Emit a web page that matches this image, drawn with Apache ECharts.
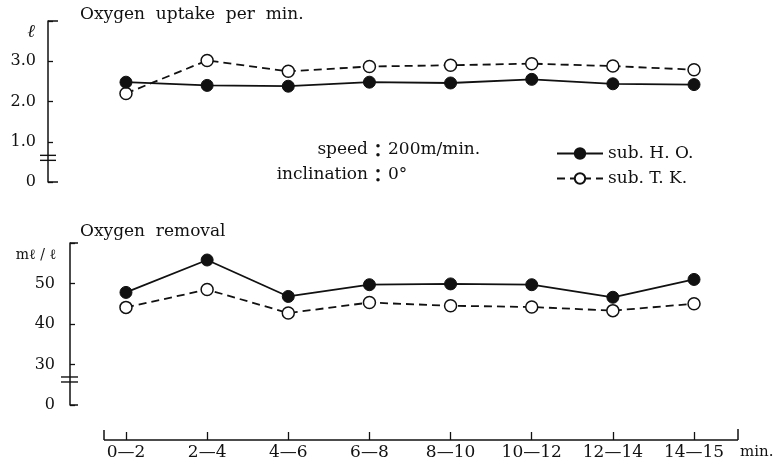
<!DOCTYPE html>
<html><head><meta charset="utf-8">
<script src="https://cdn.jsdelivr.net/npm/echarts@6/dist/echarts.min.js"></script>
<style>html,body{margin:0;padding:0;background:#fff}#c{width:774px;height:469px}</style>
</head><body><div id="c"></div>
<script>
const categories = ['0—2','2—4','4—6','6—8','8—10','10—12','12—14','14—15'];
const uptakeHO = [2.48, 2.40, 2.38, 2.48, 2.46, 2.55, 2.44, 2.42];
const uptakeTK = [2.20, 3.02, 2.75, 2.87, 2.90, 2.94, 2.88, 2.79];
const removalHO = [47.8, 55.8, 46.8, 49.7, 49.9, 49.7, 46.6, 51.0];
const removalTK = [44.1, 48.5, 42.7, 45.3, 44.5, 44.2, 43.3, 45.0];
const seriesNames = ['sub. H. O.', 'sub. T. K.'];

const FONT = '"DejaVu Serif", "Liberation Serif", serif';
const INK = '#111';
const chart = echarts.init(document.getElementById('c'), null, {renderer: 'canvas'});

const solidStyle = {color: INK, width: 1.8, type: 'solid'};
const dashStyle = {color: INK, width: 1.8, type: [8, 5]};
function mkSeries(name, data, xi, yi, open) {
  return {
    name, type: 'line', xAxisIndex: xi, yAxisIndex: yi, data,
    symbol: 'circle', symbolSize: 12,
    itemStyle: open ? {color: '#fff', borderColor: INK, borderWidth: 1.5} : {color: INK, borderColor: INK, borderWidth: 1},
    lineStyle: open ? dashStyle : solidStyle,
    emphasis: {disabled: true}, animation: false, z: open ? 3 : 4
  };
}
const gridL = 85.4, gridR = 39.4;
const option = {
  backgroundColor: '#fff',
  animation: false,
  grid: [
    {left: gridL, right: gridR, top: 21, height: 161},
    {left: gridL, right: gridR, top: 243, height: 162}
  ],
  xAxis: [
    {gridIndex: 0, type: 'category', data: categories, show: false, boundaryGap: true},
    {gridIndex: 1, type: 'category', data: categories, boundaryGap: true, position: 'bottom', offset: 35,
     axisLine: {show: false},
     axisTick: {show: true, inside: true, length: 8, alignWithLabel: true, lineStyle: {color: INK, width: 1.3}},
     axisLabel: {color: INK, fontFamily: FONT, fontSize: 17, margin: 4},
     splitLine: {show: false}}
  ],
  yAxis: [
    {gridIndex: 0, type: 'value', min: 0, max: 4, interval: 1, offset: gridL - 48,
     axisLine: {show: true, lineStyle: {color: INK, width: 1.5}},
     axisTick: {show: true, inside: true, length: 5, lineStyle: {color: INK, width: 1.3}},
     axisLabel: {color: INK, fontFamily: FONT, fontSize: 16, margin: 12,
       formatter: v => v === 4 ? '' : (v === 0 ? '0' : v.toFixed(1))},
     splitLine: {show: false}},
    {gridIndex: 1, type: 'value', min: 20, max: 60, interval: 10, offset: gridL - 70,
     axisLine: {show: true, lineStyle: {color: INK, width: 1.5}},
     axisTick: {show: true, inside: true, length: 5, lineStyle: {color: INK, width: 1.3}},
     axisLabel: {color: INK, fontFamily: FONT, fontSize: 16, margin: 15,
       formatter: v => v === 60 ? '' : (v === 20 ? '0' : String(v))},
     splitLine: {show: false}}
  ],
  legend: {
    left: 551, top: 140, orient: 'vertical', itemGap: 8, itemWidth: 46, itemHeight: 13,
    data: seriesNames,
    textStyle: {color: INK, fontFamily: FONT, fontSize: 17},
    selectedMode: false
  },
  series: [
    mkSeries(seriesNames[0], uptakeHO, 0, 0, false),
    mkSeries(seriesNames[1], uptakeTK, 0, 0, true),
    mkSeries(seriesNames[0], removalHO, 1, 1, false),
    mkSeries(seriesNames[1], removalTK, 1, 1, true)
  ]
};
chart.setOption(option);

function line(x1, y1, x2, y2, w) {
  return {type: 'line', shape: {x1, y1, x2, y2}, style: {stroke: INK, lineWidth: w || 1.5}, silent: true};
}
function txt(text, x, y, size, align, extra) {
  return {type: 'text', x, y, silent: true,
    style: Object.assign({text, fill: INK, font: (size || 16) + 'px ' + FONT, textAlign: align || 'left', textVerticalAlign: 'middle'}, extra || {})};
}
const topY = chart.convertToPixel({yAxisIndex: 0}, 4);
const zeroY = chart.convertToPixel({yAxisIndex: 0}, 0);
const brkTop = chart.convertToPixel({yAxisIndex: 0}, 0.6);
const topY2 = chart.convertToPixel({yAxisIndex: 1}, 60);
const zeroY2 = chart.convertToPixel({yAxisIndex: 1}, 20);
const brkBot = chart.convertToPixel({yAxisIndex: 1}, 26.3);

const g = [
  line(48, topY, 58, topY), line(48, zeroY, 58, zeroY),
  {type: 'rect', shape: {x: 44, y: brkTop - 2, width: 8, height: 4}, style: {fill: '#fff'}, silent: true},
  line(40, brkTop - 2.5, 56, brkTop - 2.5, 1.4), line(40, brkTop + 2.5, 56, brkTop + 2.5, 1.4),
  line(70, topY2, 78, topY2), line(70, zeroY2, 78, zeroY2),
  {type: 'rect', shape: {x: 66, y: brkBot - 2, width: 8, height: 4}, style: {fill: '#fff'}, silent: true},
  line(61, brkBot - 2.5, 78, brkBot - 2.5, 1.4), line(61, brkBot + 2.5, 78, brkBot + 2.5, 1.4),
  line(104, 440, 738, 440, 1.5), line(104, 440, 104, 430, 1.5), line(738, 440, 738, 429, 1.5),
  txt('Oxygen  uptake  per  min.', 80, 15, 17),
  txt('ℓ', 31, 32, 18, 'center', {font: 'italic 18px ' + FONT}),
  txt('Oxygen  removal', 80, 232, 17),
  txt('mℓ / ℓ', 36, 255, 14, 'center'),
  txt('min.', 740, 452, 15),
  txt('speed', 368, 150, 17, 'right'),
  txt('：', 378, 150, 18, 'center', {font: 'bold 18px "Noto Sans CJK JP"'}),
  txt('200m/min.', 388, 150, 17),
  txt('inclination', 368, 175, 17, 'right'),
  txt('：', 378, 175, 18, 'center', {font: 'bold 18px "Noto Sans CJK JP"'}),
  txt('0°', 388, 175, 17)
];
chart.setOption({graphic: {elements: g}});
</script>
</body></html>
